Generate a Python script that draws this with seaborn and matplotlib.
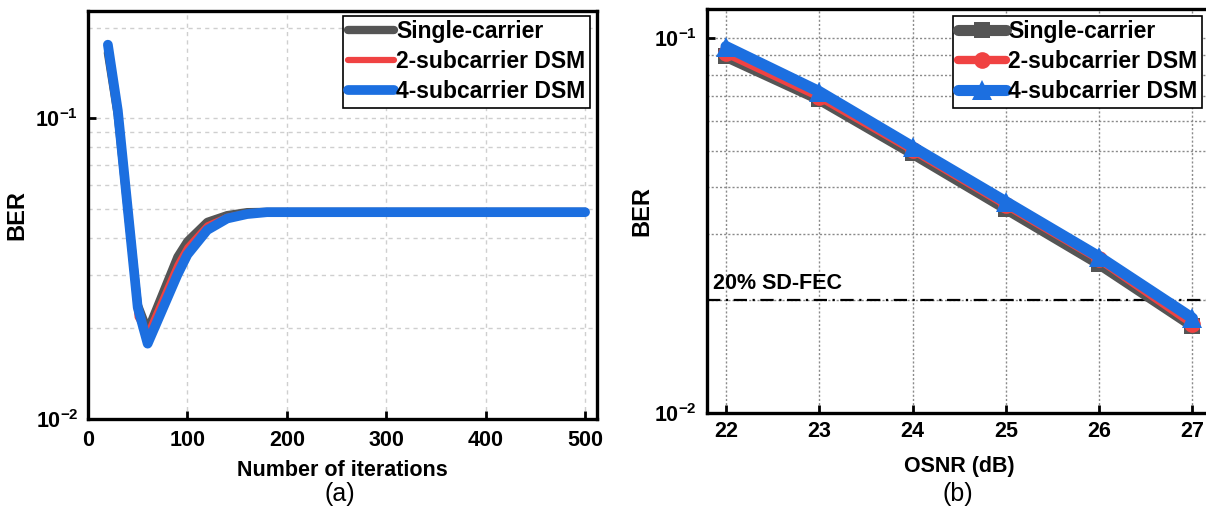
import numpy as np
import pandas as pd
import matplotlib
matplotlib.use("Agg")
import matplotlib.pyplot as plt
import seaborn as sns
from matplotlib.ticker import LogLocator, LogFormatterSciNotation, NullFormatter, FixedLocator

# ---------------- data ----------------
labels = ["Single-carrier", "2-subcarrier DSM", "4-subcarrier DSM"]

iters = [20, 30, 50, 60, 90, 100, 120, 140, 160, 180, 200, 300, 400, 500]
ber_a_single = [0.165, 0.102, 0.0240, 0.0197, 0.0346, 0.0390, 0.0452, 0.0476, 0.0487, 0.0488, 0.0488, 0.0488, 0.0488, 0.0488]
ber_a_2sub   = [0.167, 0.100, 0.0218, 0.0192, 0.0325, 0.0372, 0.0440, 0.0470, 0.0484, 0.0488, 0.0488, 0.0488, 0.0488, 0.0488]
ber_a_4sub   = [0.1755, 0.106, 0.0235, 0.0178, 0.0302, 0.0352, 0.0425, 0.0464, 0.0480, 0.0487, 0.0487, 0.0487, 0.0487, 0.0487]

osnr = [22, 23, 24, 25, 26, 27]
ber_b_single = [0.0894, 0.0687, 0.0493, 0.0351, 0.0250, 0.0171]
ber_b_2sub   = [0.0912, 0.0698, 0.0503, 0.0359, 0.0257, 0.0173]
ber_b_4sub   = [0.0950, 0.0720, 0.0513, 0.0366, 0.0261, 0.0179]
fec_threshold = 0.02
fec_label = "20% SD-FEC"

xticks_a = [0, 100, 200, 300, 400, 500]
xticks_b = [22, 23, 24, 25, 26, 27]

# ---------------- style ----------------
sns.set_theme(style="white")
plt.rcParams["font.family"] = ["Liberation Sans", "DejaVu Sans"]
plt.rcParams["font.weight"] = "bold"
plt.rcParams["text.color"] = "black"
plt.rcParams["axes.labelcolor"] = "black"
plt.rcParams["xtick.color"] = "black"
plt.rcParams["ytick.color"] = "black"
plt.rcParams["mathtext.fontset"] = "custom"
plt.rcParams["mathtext.rm"] = "Liberation Sans"
plt.rcParams["mathtext.bf"] = "Liberation Sans:bold"
plt.rcParams["mathtext.default"] = "bf"

colors = ["#555555", "#F04242", "#1C6FE0"]
lw_a = [6.0, 4.5, 7.0]
lw_b = [8.0, 6.0, 8.0]
markers = ["s", "o", "^"]
msizes = [12, 12, 14]

W, H = 1206, 521
fig = plt.figure(figsize=(W / 100, H / 100), dpi=100)

def px_axes(l, t, r, b):
    return fig.add_axes([l / W, 1 - b / H, (r - l) / W, (b - t) / H])

ax1 = px_axes(88, 10.5, 597, 419)
ax2 = px_axes(706.7, 8.5, 1212, 413)

# ---------------- panel (a) ----------------
series_a = [ber_a_single, ber_a_2sub, ber_a_4sub]
for lab, vals, c, lw in zip(labels, series_a, colors, lw_a):
    df = pd.DataFrame({"x": iters, "y": vals})
    sns.lineplot(data=df, x="x", y="y", ax=ax1, color=c, linewidth=lw,
                 label=lab, sort=False, solid_capstyle="round", solid_joinstyle="round")

ax1.set_yscale("log")
ax1.set_ylim(0.01, 0.228)
ax1.set_xlim(0, 512)
ax1.xaxis.set_major_locator(FixedLocator(xticks_a))
ax1.grid(True, which="major", axis="x", color="#cfcfcf", linestyle=(0, (3, 3)), linewidth=1.0)
ax1.grid(True, which="both", axis="y", color="#cfcfcf", linestyle=(0, (3, 3)), linewidth=1.0)

# ---------------- panel (b) ----------------
series_b = [ber_b_single, ber_b_2sub, ber_b_4sub]
for lab, vals, c, lw, m, ms in zip(labels, series_b, colors, lw_b, markers, msizes):
    df = pd.DataFrame({"x": osnr, "y": vals})
    sns.lineplot(data=df, x="x", y="y", ax=ax2, color=c, linewidth=lw, marker=m,
                 markersize=ms, markeredgewidth=0, label=lab, sort=False)

ax2.axhline(fec_threshold, color="black", linewidth=1.6, linestyle=(0, (6, 2.5, 1, 2.5)), zorder=1.5)
ax2.text(21.86, fec_threshold * 1.04, fec_label, fontsize=15.5, fontweight="bold",
         ha="left", va="bottom")

ax2.set_yscale("log")
ax2.set_ylim(0.01, 0.12)
ax2.set_xlim(21.793, 27.21)
ax2.xaxis.set_major_locator(FixedLocator(xticks_b))
ax2.grid(True, which="major", axis="x", color="#8a8a8a", linestyle=(0, (1.5, 1.5)), linewidth=1.0)
ax2.grid(True, which="both", axis="y", color="#8a8a8a", linestyle=(0, (1.5, 1.5)), linewidth=1.0)

# ---------------- common axes styling ----------------
for ax, xl, xpad, ylx, xly in [(ax1, "Number of iterations", 8, -0.118, -0.10),
                               (ax2, "OSNR (dB)", 6, -0.106, -0.106)]:
    ax.yaxis.set_major_locator(LogLocator(base=10, numticks=10))
    ax.yaxis.set_minor_locator(LogLocator(base=10, subs=np.arange(2, 10), numticks=10))
    ax.yaxis.set_major_formatter(LogFormatterSciNotation())
    ax.yaxis.set_minor_formatter(NullFormatter())
    ax.set_axisbelow(True)
    for s in ax.spines.values():
        s.set_linewidth(2.4)
        s.set_color("black")
    ax.tick_params(axis="both", which="major", direction="in", length=5.5, width=2.0,
                   labelsize=15.5, color="black", labelcolor="black")
    ax.tick_params(axis="y", which="minor", direction="in", length=3.5, width=2.0, color="black")
    ax.tick_params(axis="x", which="major", pad=xpad)
    ax.tick_params(axis="y", which="major", pad=7)
    ax.tick_params(left=True, bottom=True, top=False, right=False)
    ax.set_xlabel(xl, fontsize=15.5, fontweight="bold", color="black")
    ax.set_ylabel("BER", fontsize=17, fontweight="bold", color="black")
    ax.yaxis.set_label_coords(ylx, 0.5)
    ax.xaxis.set_label_coords(0.5, xly)
    for t in ax.get_xticklabels() + ax.get_yticklabels():
        t.set_fontweight("bold")

legend_kw = dict(frameon=True, fancybox=False, edgecolor="black", framealpha=1.0,
                 borderpad=0.2, handletextpad=0.1, labelspacing=0.3,
                 borderaxespad=0.0, prop={"size": 16.5, "weight": "bold"})
leg1 = ax1.legend(loc="upper right", bbox_to_anchor=(590 / W, 1 - 15.7 / H),
                  bbox_transform=fig.transFigure, handlelength=2.0, **legend_kw)
leg2 = ax2.legend(loc="upper right", bbox_to_anchor=(1202 / W, 1 - 15.7 / H),
                  bbox_transform=fig.transFigure, handlelength=2.1, **legend_kw)
for leg in (leg1, leg2):
    leg.get_frame().set_linewidth(1.2)
    for t in leg.get_texts():
        t.set_color("black")

fig.text(340 / W, 1 - 494 / H, "(a)", fontsize=18, fontweight="normal", ha="center", va="center")
fig.text(958 / W, 1 - 494 / H, "(b)", fontsize=18, fontweight="normal", ha="center", va="center")

fig.savefig("out.png", dpi=100)
